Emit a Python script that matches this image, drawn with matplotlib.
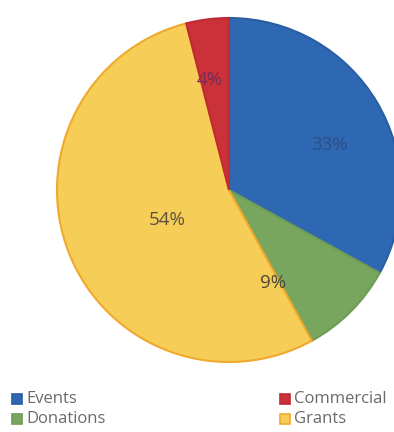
import matplotlib
matplotlib.use("Agg")
import matplotlib.pyplot as plt
from matplotlib.patches import Rectangle

# income split, clockwise from 12 o'clock
categories = ["Events", "Donations", "Grants", "Commercial"]
shares = [33, 9, 54, 4]
pct_labels = ["33%", "9%", "54%", "4%"]
legend_order = ["Events", "Donations", "Commercial", "Grants"]

face_colors = ["#2f68b2", "#78a65e", "#f6cd57", "#cb3139"]
edge_colors = ["#2a5ea3", "#6f9c56", "#f0a92c", "#c02a33"]
text_colors = ["#2d4f86", "#4a4a3c", "#5a5040", "#7a2a55"]

plt.rcParams["font.family"] = ["Open Sans", "DejaVu Sans"]

W, H = 394, 432
fig = plt.figure(figsize=(W / 100, H / 100), dpi=100)
ax = fig.add_axes([0, 0, 1, 1])

cx, cy, r = 229, H - 190, 172
wedges, _ = ax.pie(shares, colors=face_colors, startangle=90, counterclock=False,
                   center=(cx, cy), radius=r, frame=True,
                   wedgeprops=dict(linewidth=1.5))
for w, ec in zip(wedges, edge_colors):
    w.set_edgecolor(ec)
ax.set_xlim(0, W)
ax.set_ylim(0, H)
ax.axis("off")

# label offsets from the centre (pixels, y up)
label_pos = [(101, 45), (44, -93), (-62, -30), (-19, 110)]
for txt, (dx, dy), tc in zip(pct_labels, label_pos, text_colors):
    ax.text(cx + dx, cy + dy, txt, ha="center", va="center",
            fontsize=13.5, color=tc)

# legend, two columns
colour_of = dict(zip(categories, face_colors))
edge_of = dict(zip(categories, edge_colors))
leg_x = [12, 280]
leg_y = [H - 399, H - 419]
for i, name in enumerate(legend_order):
    x = leg_x[i // 2]
    y = leg_y[i % 2]
    ax.add_patch(Rectangle((x, y - 5), 10, 10, facecolor=colour_of[name],
                           edgecolor=edge_of[name], linewidth=1.2))
    ax.text(x + 14, y, name, ha="left", va="center", fontsize=12, color="#6a6a6a")

fig.savefig("out.png", dpi=100)
